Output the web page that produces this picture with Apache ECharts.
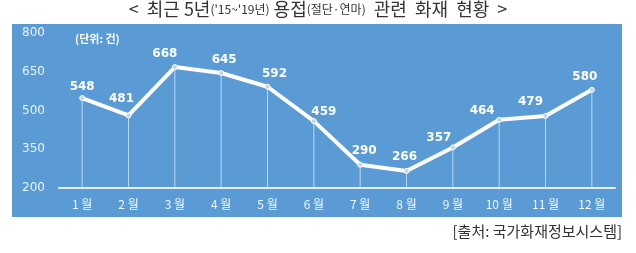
<!DOCTYPE html>
<html><head><meta charset="utf-8">
<style>html,body{margin:0;padding:0;background:#fff;}#c{width:636px;height:253px;}</style>
<script src="https://cdn.jsdelivr.net/npm/echarts@6/dist/echarts.min.js"></script>
</head><body><div id="c"></div>
<script>
const months = ['1월','2월','3월','4월','5월','6월','7월','8월','9월','10월','11월','12월'];
const fires = [548, 481, 668, 645, 592, 459, 290, 266, 357, 464, 479, 580];
const yTicks = [200, 350, 500, 650, 800];
const labelShift = [[0,0],[-7,-6],[-10,-2],[3,-2],[7,-2],[10,2],[4,-3],[-2,-3],[-14,1],[-17,2],[-15,-3],[-7,-2]];

const chart = echarts.init(document.getElementById('c'), null, {renderer:'canvas'});
const font = '"Noto Sans CJK KR", "Noto Sans", sans-serif';
chart.setOption({
  animation:false,
  textStyle:{fontFamily:font},
  graphic:[
    {type:'rect', z:-10, shape:{x:12,y:24,width:610,height:193}, style:{fill:'#5b9bd5'}},
    {type:'text', left:'center', top:0, style:{
      text:'{a|<  최근 5년}{b|(\'15~\'19년)}{a| 용접}{b|(절단·연마)}{a|  관련  화재  현황  >}',
      rich:{a:{fontSize:18,fill:'#333',fontFamily:font},b:{fontSize:12,fill:'#333',fontFamily:font}}
    }},
    {type:'text', left:75, top:33, style:{text:'(단위: 건)', fontSize:11, fontWeight:'bold', fill:'#fff', fontFamily:font}},
    {type:'text', right:14, top:224, style:{text:'[출처: 국가화재정보시스템]', fontSize:15, fill:'#333', fontFamily:font}}
  ],
  grid:{left:59, right:21, top:33, bottom:65},
  xAxis:{
    type:'category', data:months, boundaryGap:true,
    axisLine:{lineStyle:{color:'#e4eef9', width:2}},
    axisTick:{show:false},
    axisLabel:{color:'#f4f8fd', fontSize:12, margin:10,
      formatter:v=>v.replace('월',' 월')}
  },
  yAxis:{
    type:'value', min:200, max:800, interval:150,
    axisLine:{show:false}, axisTick:{show:false}, splitLine:{show:false},
    axisLabel:{color:'#eef4fb', fontSize:12, margin:37, align:'left', fontFamily:'"DejaVu Sans", sans-serif',
      formatter:v=>yTicks.includes(v)?String(v):''}
  },
  series:[
    {type:'bar', data:fires, barWidth:1, itemStyle:{color:'rgba(255,255,255,0.6)'}, silent:true, z:1},
    {type:'line', data:fires.map((v,i)=>({value:v, label:{offset:labelShift[i]}})), z:3,
      symbol:'circle', symbolSize:5,
      lineStyle:{color:'#fff', width:4},
      itemStyle:{color:'#bcd6f0', borderColor:'#fff', borderWidth:1},
      label:{show:true, position:'top', distance:2, color:'#fff', fontSize:12, fontWeight:'bold', fontFamily:'"DejaVu Sans", sans-serif'}
    }
  ]
});
</script></body></html>
